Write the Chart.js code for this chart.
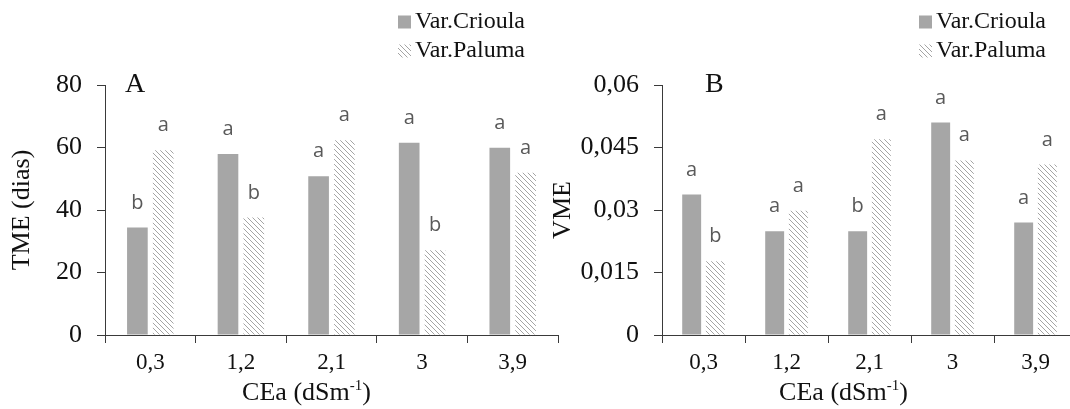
<!DOCTYPE html>
<html>
<head>
  <meta charset="UTF-8">
  <title>TME / VME</title>
  <script src="https://cdn.jsdelivr.net/npm/chart.js"></script>
  <style>
    html, body { margin: 0; padding: 0; background: #fff; }
    body { width: 1070px; height: 409px; overflow: hidden; position: relative; }
    #chartA { position: absolute; left: 0; top: 0; }
    #chartB { position: absolute; left: 540px; top: 0; }
  </style>
</head>
<body>
  <canvas id="chartA" width="570" height="409"></canvas>
  <canvas id="chartB" width="545" height="409"></canvas>

  <script>
    // data
    const categories = ['0,3', '1,2', '2,1', '3', '3,9'];
    const seriesNames = ['Var.Crioula', 'Var.Paluma'];

    const tmeCrioula = [34.4, 57.9, 50.8, 61.5, 59.9];
    const tmePaluma = [59.1, 37.6, 62.3, 27.1, 51.9];
    const tmeLettersCrioula = ['b', 'a', 'a', 'a', 'a'];
    const tmeLettersPaluma = ['a', 'b', 'a', 'b', 'a'];
    const tmeTicks = ['0', '20', '40', '60', '80'];

    const vmeCrioula = [0.0337, 0.0249, 0.0249, 0.051, 0.027];
    const vmePaluma = [0.0177, 0.0298, 0.047, 0.0419, 0.0409];
    const vmeLettersCrioula = ['a', 'a', 'b', 'a', 'a'];
    const vmeLettersPaluma = ['b', 'a', 'a', 'a', 'a'];
    const vmeTicks = ['0', '0,015', '0,03', '0,045', '0,06'];

    const serif = '"Liberation Serif", "Times New Roman", serif';
    const axisColor = '#3a3a3a';
    const textColor = '#111';

    // diagonal hatch for Paluma
    function hatch() {
      const c = document.createElement('canvas');
      c.width = 5; c.height = 5;
      const g = c.getContext('2d');
      g.fillStyle = '#fff';
      g.fillRect(0, 0, 5, 5);
      g.strokeStyle = '#a4a4a4';
      g.lineWidth = 1;
      g.beginPath();
      g.moveTo(-1, -1); g.lineTo(6, 6);
      g.moveTo(-1, 4); g.lineTo(1, 6);
      g.moveTo(4, -1); g.lineTo(6, 1);
      g.stroke();
      return g.createPattern(c, 'repeat');
    }
    const paluma = hatch();
    const crioula = '#a6a6a6';

    // letters over bars, panel letter, legend, x title with superscript
    const decor = {
      id: 'decor',
      afterDatasetsDraw(chart, args, opts) {
        const ctx = chart.ctx;
        const area = chart.chartArea;
        ctx.save();

        ctx.font = '20px "Open Sans", sans-serif';
        ctx.fillStyle = '#595959';
        ctx.textAlign = 'center';
        ctx.textBaseline = 'alphabetic';
        opts.letters.forEach((arr, di) => {
          chart.getDatasetMeta(di).data.forEach((bar, i) => {
            ctx.fillText(arr[i], bar.x, bar.y - 19);
          });
        });

        ctx.fillStyle = textColor;
        ctx.textAlign = 'left';
        ctx.font = '28px ' + serif;
        ctx.fillText(opts.panel, area.left + opts.panelX, area.top + 7);

        // legend
        ctx.font = '24px ' + serif;
        ctx.textBaseline = 'middle';
        chart.data.datasets.forEach((ds, i) => {
          const x0 = area.right + opts.legendX;
          const yc = 22 + i * 29;
          ctx.fillStyle = ds.backgroundColor;
          ctx.fillRect(x0, yc - 6.5, 13, 13);
          ctx.fillStyle = textColor;
          ctx.fillText(ds.label, x0 + 17, yc);
        });

        // x axis title
        const main = 'CEa (dSm';
        const sup = '-1';
        const close = ')';
        ctx.textBaseline = 'alphabetic';
        ctx.font = '26px ' + serif;
        const wMain = ctx.measureText(main).width;
        const wClose = ctx.measureText(close).width;
        ctx.font = '15px ' + serif;
        const wSup = ctx.measureText(sup).width;
        const total = wMain + wSup + wClose;
        let x = (area.left + area.right) / 2 + opts.titleDx - total / 2;
        const base = chart.height - 9;
        ctx.font = '26px ' + serif;
        ctx.fillText(main, x, base);
        x += wMain;
        ctx.font = '15px ' + serif;
        ctx.fillText(sup, x, base - 10);
        x += wSup;
        ctx.font = '26px ' + serif;
        ctx.fillText(close, x, base);

        ctx.restore();
      }
    };

    function makeChart(id, crioulaData, palumaData, opts) {
      return new Chart(document.getElementById(id).getContext('2d'), {
        type: 'bar',
        data: {
          labels: categories,
          datasets: [
            { label: seriesNames[0], data: crioulaData, backgroundColor: crioula, borderWidth: 0 },
            { label: seriesNames[1], data: palumaData, backgroundColor: paluma, borderWidth: 0 }
          ]
        },
        options: {
          responsive: false,
          animation: false,
          categoryPercentage: 0.57,
          barPercentage: 0.8,
          layout: { padding: { top: 85, right: opts.padRight, left: 0, bottom: 0 } },
          plugins: {
            legend: { display: false },
            tooltip: { enabled: false },
            decor: {
              panel: opts.panel,
              panelX: opts.panelX,
              legendX: opts.legendX,
              titleDx: opts.titleDx,
              letters: opts.letters
            }
          },
          scales: {
            x: {
              afterFit: s => { s.height = 74; },
              grid: { drawOnChartArea: false, tickLength: 8, color: axisColor, offset: true },
              border: { color: axisColor, width: 1 },
              ticks: { color: textColor, font: { family: serif, size: 23 }, padding: 6 }
            },
            y: {
              min: 0,
              max: opts.max,
              afterFit: s => { s.width = opts.yWidth; },
              grid: { drawOnChartArea: false, tickLength: 8, color: axisColor },
              border: { color: axisColor, width: 1 },
              ticks: {
                stepSize: opts.step,
                padding: 15,
                color: textColor,
                font: { family: serif, size: 26 },
                callback: (v, i) => opts.tickLabels[i]
              },
              title: {
                display: true,
                text: opts.yTitle,
                color: textColor,
                font: { family: serif, size: 26 },
                padding: { top: opts.titlePad, bottom: 0 }
              }
            }
          }
        },
        plugins: [decor]
      });
    }

    makeChart('chartA', tmeCrioula, tmePaluma, {
      max: 80, step: 20, tickLabels: tmeTicks, yTitle: 'TME (dias)',
      yWidth: 105, padRight: 12, titlePad: 7,
      panel: 'A', panelX: 20, legendX: -160, titleDx: -25,
      letters: [tmeLettersCrioula, tmeLettersPaluma]
    });

    makeChart('chartB', vmeCrioula, vmePaluma, {
      max: 0.06, step: 0.015, tickLabels: vmeTicks, yTitle: 'VME',
      yWidth: 122, padRight: 8, titlePad: 8,
      panel: 'B', panelX: 43, legendX: -158, titleDx: -26,
      letters: [vmeLettersCrioula, vmeLettersPaluma]
    });
  </script>
</body>
</html>
